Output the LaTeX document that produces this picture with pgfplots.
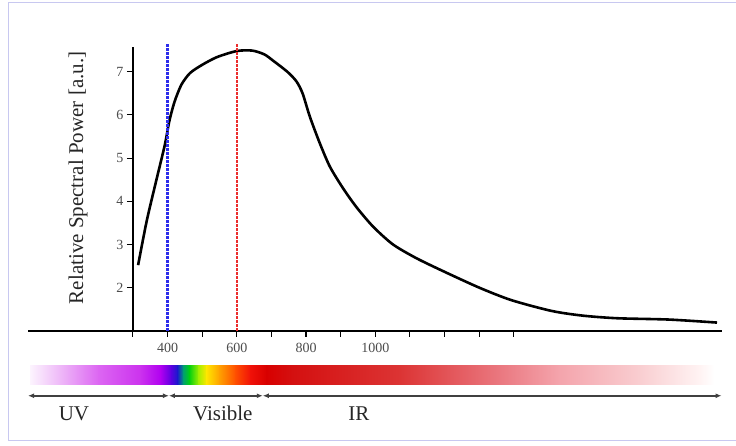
\documentclass[border=0pt]{standalone}
\usepackage{pgfplots}
\pgfplotsset{compat=1.18}
\usepackage{fontspec}
\setmainfont{Liberation Serif}
\usetikzlibrary{arrows.meta}

\definecolor{s01}{HTML}{FCF4FE}
\definecolor{s02}{HTML}{EEB8F8}
\definecolor{s03}{HTML}{DC66F2}
\definecolor{s04}{HTML}{CC33EE}
\definecolor{s05}{HTML}{B000F0}
\definecolor{s06}{HTML}{5A00E0}
\definecolor{s07}{HTML}{1A1ACC}
\definecolor{s08}{HTML}{00A070}
\definecolor{s09}{HTML}{00D010}
\definecolor{s10}{HTML}{A8EE00}
\definecolor{s11}{HTML}{FFE600}
\definecolor{s12}{HTML}{FFA000}
\definecolor{s13}{HTML}{FF5000}
\definecolor{s14}{HTML}{F01008}
\definecolor{s15}{HTML}{D80000}
\definecolor{s16}{HTML}{D41010}
\definecolor{s17}{HTML}{DC3434}
\definecolor{s18}{HTML}{EA7880}
\definecolor{s19}{HTML}{F4A4AC}
\definecolor{s20}{HTML}{F9CDD0}
\definecolor{s21}{HTML}{FFF4F4}
\definecolor{s22}{HTML}{FFFFFF}
\definecolor{bordercol}{HTML}{C8C8F0}
\definecolor{vlineblue}{RGB}{45,45,235}
\definecolor{vlinered}{RGB}{235,45,45}

\newcommand{\seg}[4]{\shade[left color=#3,right color=#4] (axis cs:#1,0.19) rectangle (axis cs:#2+1.5,-0.25);}

\begin{document}
\begin{tikzpicture}
\begin{axis}[
  scale only axis,
  width=589pt, height=283.7pt,
  xmin=300, xmax=2000, ymin=1, ymax=7.567,
  axis lines=left,
  axis line style={line width=1.6pt, -},
  clip=false,
  xtick={300,400,...,1400},
  xticklabels={,400,,600,,800,,1000,,,,},
  ytick={2,...,7},
  tick align=outside,
  major tick length=6pt,
  tick style={line width=1.1pt, black},
  ticklabel style={font=\fontsize{14}{16}\selectfont, text=black!70},
  xticklabel style={yshift=-3pt},
  /pgf/number format/assume math mode=true,
]
% bounding box and frame
\path (axis cs:-83.9,-1.662) rectangle (axis cs:2040.4,8.662);
\draw[bordercol, line width=1pt] (axis cs:-57.9,-1.546) -- (axis cs:-57.9,8.593) -- (axis cs:2040.4,8.593);
\draw[bordercol, line width=1pt] (axis cs:-57.9,-1.546) -- (axis cs:2040.4,-1.546);

% extension of the x axis line to the left
\draw[line width=1.6pt] (axis cs:-3,1) -- (axis cs:300,1);

% spectral power curve
\addplot[black, line width=2.6pt, smooth, tension=0.45] coordinates {
(315,2.52) (340,3.55) (368,4.5) (392,5.3) (405,5.85) (420,6.3) (440,6.7)
(465,6.97) (500,7.16) (543,7.34) (600,7.48) (645,7.49) (680,7.4) (706,7.25)
(746,7.0) (772,6.78) (790,6.5) (811,5.96) (840,5.34) (869,4.8) (907,4.3)
(946,3.86) (994,3.41) (1051,3.0) (1119,2.68) (1199,2.37) (1300,2.0)
(1393,1.71) (1509,1.46) (1600,1.35) (1700,1.29) (1848,1.26) (1987,1.19)
};

% marker lines
\addplot[vlinered, line width=2.4pt, dash pattern=on 2.6pt off 1.4pt] coordinates {(600,1) (600,7.64)};
\addplot[vlineblue, line width=2.4pt, dash pattern=on 2.6pt off 1.4pt] coordinates {(400,1) (400,7.64)};

% spectrum bar
\seg{3}{90}{s01}{s02}
\seg{90}{200}{s02}{s03}
\seg{200}{320}{s03}{s04}
\seg{320}{380}{s04}{s05}
\seg{380}{410}{s05}{s06}
\seg{410}{428}{s06}{s07}
\seg{428}{445}{s07}{s08}
\seg{445}{462}{s08}{s09}
\seg{462}{490}{s09}{s10}
\seg{490}{512}{s10}{s11}
\seg{512}{550}{s11}{s12}
\seg{550}{595}{s12}{s13}
\seg{595}{640}{s13}{s14}
\seg{640}{685}{s14}{s15}
\seg{685}{760}{s15}{s16}
\seg{760}{1070}{s16}{s17}
\seg{1070}{1360}{s17}{s18}
\seg{1360}{1530}{s18}{s19}
\seg{1530}{1760}{s19}{s20}
\seg{1760}{1940}{s20}{s21}
\shade[left color=s21,right color=s22] (axis cs:1940,0.19) rectangle (axis cs:1980,-0.25);

% region arrows
\draw[{Latex[length=6pt,width=5pt]}-{Latex[length=6pt,width=5pt]}, line width=1.6pt, black!75] (axis cs:-3,-0.505) -- (axis cs:404,-0.505);
\draw[{Latex[length=6pt,width=5pt]}-{Latex[length=6pt,width=5pt]}, line width=1.6pt, black!75] (axis cs:404,-0.505) -- (axis cs:675,-0.505);
\draw[{Latex[length=6pt,width=5pt]}-{Latex[length=6pt,width=5pt]}, line width=1.6pt, black!75] (axis cs:675,-0.505) -- (axis cs:2000,-0.505);

\node[font=\fontsize{21}{24}\selectfont, text=black!85] at (axis cs:129.7,-0.92) {UV};
\node[font=\fontsize{21}{24}\selectfont, text=black!85] at (axis cs:559.8,-0.92) {Visible};
\node[font=\fontsize{21}{24}\selectfont, text=black!85] at (axis cs:952.3,-0.92) {IR};

% y label
\node[rotate=90, font=\fontsize{21}{24}\selectfont, text=black!85] at (axis cs:141.3,4.542) {Relative Spectral Power [a.u.]};
\end{axis}
\end{tikzpicture}
\end{document}
